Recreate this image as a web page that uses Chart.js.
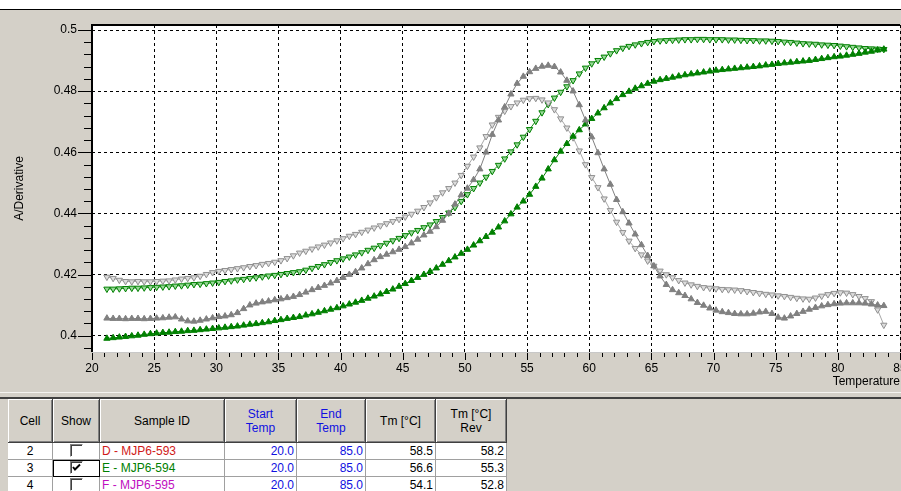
<!DOCTYPE html>
<html>
<head>
<meta charset="utf-8">
<script src="https://cdn.jsdelivr.net/npm/chart.js@4.4.1/dist/chart.umd.min.js"></script>
<style>
html, body { margin: 0; padding: 0; }
body { width: 901px; height: 491px; overflow: hidden; position: relative; background: #fff;
       font-family: "Liberation Sans", Arial, sans-serif; font-size: 12px; }
#topline { position: absolute; left: 0; top: 9px; width: 901px; height: 1px; background: #000; }
#panel { position: absolute; left: 0; top: 10px; width: 901px; height: 382px; background: #d4d0c8; }
#sep1 { position: absolute; left: 0; top: 392px; width: 901px; height: 1px; background: #f4f3f0; }
#lower { position: absolute; left: 0; top: 393px; width: 901px; height: 98px; background: #d4d0c8; }
#sep2 { position: absolute; left: 0; top: 397px; width: 901px; height: 2px; background: #404040; }
#wrap { position: absolute; left: 0; top: 10px; width: 920px; height: 382px; }
#grid { position: absolute; left: 8px; top: 399px; border-collapse: separate; border-spacing: 0;
        table-layout: fixed; font-size: 12px; }
#grid th { height: 43px; padding: 0; background: #d4d0c8; font-weight: normal; line-height: 14px;
           border-right: 1px solid #404040; border-bottom: 1px solid #404040;
           box-shadow: inset 1px 1px #fff, inset -1px -1px #808080; color: #000; }
#grid td { height: 16px; padding: 0 2px; background: #fff; line-height: 16px; white-space: nowrap;
           border-right: 1px solid #a0a0a0; border-bottom: 1px solid #a0a0a0; overflow: hidden; }
#grid .blue { color: #1010e0; }
#grid .num { text-align: right; }
#grid .ctr { text-align: center; }
#grid td.focus { outline: 1px solid #000; outline-offset: -1px; }
.cb { display: inline-block; width: 11px; height: 11px; vertical-align: -2px; background: #fff;
      border: 1px solid; border-color: #808080 #fff #fff #808080; box-shadow: inset 1px 1px #404040; position: relative; }
.cb svg { position: absolute; left: 1px; top: 1px; }
</style>
</head>
<body>
<div id="topline"></div>
<div id="panel"></div>
<div id="sep1"></div>
<div id="lower"></div>
<div id="sep2"></div>
<div id="wrap"><canvas id="myChart" width="920" height="382"></canvas></div>
<table id="grid"></table>
<script>
// sampling grid of the melt run (deg C)
const tempStart = 21.2;
const tempStep = 0.5;

// gray, filled up-triangles
const grayUp = [
  0.4057, 0.4056, 0.4056, 0.4055, 0.4056, 0.4056, 0.4055, 0.4056, 0.4057, 0.4058,
  0.4060, 0.4061, 0.4054, 0.4048, 0.4047, 0.4050, 0.4054, 0.4058, 0.4062, 0.4064,
  0.4068, 0.4075, 0.4088, 0.4100, 0.4106, 0.4110, 0.4113, 0.4117, 0.4120, 0.4124,
  0.4128, 0.4134, 0.4142, 0.4150, 0.4157, 0.4164, 0.4172, 0.4180, 0.4190, 0.4200,
  0.4209, 0.4221, 0.4235, 0.4248, 0.4258, 0.4266, 0.4274, 0.4282, 0.4291, 0.4303,
  0.4315, 0.4329, 0.4341, 0.4356, 0.4377, 0.4400, 0.4430, 0.4460, 0.4482, 0.4510,
  0.4545, 0.4600, 0.4658, 0.4705, 0.4748, 0.4790, 0.4825, 0.4848, 0.4863, 0.4874,
  0.4881, 0.4884, 0.4880, 0.4862, 0.4835, 0.4800, 0.4755, 0.4705, 0.4650, 0.4598,
  0.4545, 0.4495, 0.4445, 0.4405, 0.4368, 0.4332, 0.4297, 0.4262, 0.4228, 0.4195,
  0.4167, 0.4150, 0.4140, 0.4131, 0.4120, 0.4108, 0.4099, 0.4090, 0.4083, 0.4078,
  0.4075, 0.4072, 0.4071, 0.4071, 0.4073, 0.4077, 0.4079, 0.4072, 0.4060, 0.4057,
  0.4064, 0.4072, 0.4079, 0.4086, 0.4092, 0.4097, 0.4101, 0.4104, 0.4106, 0.4107,
  0.4107, 0.4107, 0.4106, 0.4103, 0.4100, 0.4098
];

// light gray, open down-triangles
const grayDown = [
  0.4192, 0.4188, 0.4182, 0.4178, 0.4177, 0.4178, 0.4177, 0.4177, 0.4178, 0.4179,
  0.4180, 0.4183, 0.4186, 0.4188, 0.4190, 0.4195, 0.4201, 0.4207, 0.4211, 0.4214,
  0.4217, 0.4220, 0.4223, 0.4227, 0.4230, 0.4234, 0.4237, 0.4241, 0.4246, 0.4253,
  0.4262, 0.4271, 0.4277, 0.4284, 0.4291, 0.4297, 0.4304, 0.4311, 0.4318, 0.4326,
  0.4332, 0.4339, 0.4346, 0.4353, 0.4360, 0.4367, 0.4374, 0.4381, 0.4389, 0.4398,
  0.4408, 0.4420, 0.4435, 0.4452, 0.4468, 0.4482, 0.4500, 0.4525, 0.4555, 0.4585,
  0.4615, 0.4652, 0.4690, 0.4715, 0.4735, 0.4750, 0.4762, 0.4771, 0.4776, 0.4777,
  0.4772, 0.4762, 0.4740, 0.4710, 0.4680, 0.4648, 0.4605, 0.4560, 0.4518, 0.4485,
  0.4448, 0.4410, 0.4372, 0.4338, 0.4310, 0.4286, 0.4265, 0.4245, 0.4228, 0.4212,
  0.4200, 0.4190, 0.4181, 0.4173, 0.4167, 0.4162, 0.4158, 0.4156, 0.4154, 0.4152,
  0.4151, 0.4150, 0.4148, 0.4145, 0.4142, 0.4139, 0.4136, 0.4134, 0.4131, 0.4129,
  0.4126, 0.4123, 0.4121, 0.4120, 0.4124, 0.4130, 0.4135, 0.4139, 0.4141, 0.4140,
  0.4135, 0.4129, 0.4122, 0.4112, 0.4085, 0.4035
];

// green, open down-triangles
const greenDown = [
  0.4153, 0.4153, 0.4154, 0.4155, 0.4156, 0.4156, 0.4157, 0.4158, 0.4159, 0.4160,
  0.4161, 0.4163, 0.4164, 0.4166, 0.4168, 0.4169, 0.4171, 0.4173, 0.4175, 0.4178,
  0.4180, 0.4183, 0.4185, 0.4188, 0.4190, 0.4193, 0.4196, 0.4198, 0.4201, 0.4204,
  0.4207, 0.4210, 0.4215, 0.4221, 0.4227, 0.4233, 0.4240, 0.4246, 0.4252, 0.4258,
  0.4265, 0.4272, 0.4280, 0.4287, 0.4295, 0.4303, 0.4311, 0.4319, 0.4328, 0.4337,
  0.4345, 0.4354, 0.4363, 0.4374, 0.4387, 0.4402, 0.4420, 0.4440, 0.4462, 0.4482,
  0.4500, 0.4519, 0.4538, 0.4558, 0.4579, 0.4602, 0.4625, 0.4650, 0.4675, 0.4702,
  0.4730, 0.4757, 0.4778, 0.4797, 0.4815, 0.4835, 0.4857, 0.4876, 0.4890, 0.4901,
  0.4912, 0.4923, 0.4933, 0.4941, 0.4947, 0.4952, 0.4956, 0.4960, 0.4963, 0.4965,
  0.4966, 0.4967, 0.4968, 0.4969, 0.4969, 0.4970, 0.4970, 0.4969, 0.4969, 0.4969,
  0.4968, 0.4968, 0.4967, 0.4966, 0.4966, 0.4965, 0.4965, 0.4964, 0.4963, 0.4961,
  0.4960, 0.4958, 0.4956, 0.4955, 0.4954, 0.4952, 0.4951, 0.4950, 0.4948, 0.4946,
  0.4944, 0.4942, 0.4940, 0.4939, 0.4938, 0.4937
];

// green, filled up-triangles
const greenUp = [
  0.3991, 0.3993, 0.3995, 0.3997, 0.3999, 0.4001, 0.4004, 0.4006, 0.4008, 0.4010,
  0.4011, 0.4013, 0.4014, 0.4016, 0.4017, 0.4019, 0.4021, 0.4023, 0.4025, 0.4027,
  0.4029, 0.4031, 0.4034, 0.4037, 0.4039, 0.4042, 0.4045, 0.4049, 0.4052, 0.4056,
  0.4059, 0.4062, 0.4067, 0.4071, 0.4076, 0.4081, 0.4086, 0.4091, 0.4097, 0.4103,
  0.4109, 0.4115, 0.4122, 0.4129, 0.4136, 0.4144, 0.4152, 0.4161, 0.4170, 0.4180,
  0.4190, 0.4200, 0.4210, 0.4221, 0.4233, 0.4245, 0.4257, 0.4269, 0.4282, 0.4296,
  0.4310, 0.4324, 0.4338, 0.4355, 0.4375, 0.4398, 0.4420, 0.4440, 0.4462, 0.4488,
  0.4515, 0.4545, 0.4575, 0.4603, 0.4628, 0.4652, 0.4673, 0.4692, 0.4710, 0.4728,
  0.4745, 0.4761, 0.4775, 0.4788, 0.4799, 0.4809, 0.4817, 0.4825, 0.4832, 0.4837,
  0.4841, 0.4845, 0.4849, 0.4853, 0.4856, 0.4859, 0.4862, 0.4865, 0.4868, 0.4870,
  0.4872, 0.4874, 0.4876, 0.4878, 0.4880, 0.4882, 0.4885, 0.4887, 0.4890, 0.4892,
  0.4894, 0.4896, 0.4898, 0.4900, 0.4903, 0.4906, 0.4909, 0.4912, 0.4914, 0.4917,
  0.4920, 0.4923, 0.4927, 0.4930, 0.4934, 0.4937
];

// axes
const xMin = 20, xMax = 85, xMajor = 5;
const yMin = 0.39467, yMax = 0.50164, yMajor = 0.02, yMinor = 0.004;

// sample table
const cells = ['2', '3', '4'];
const shown = [false, true, false];
const sampleIds = ['D - MJP6-593', 'E - MJP6-594', 'F - MJP6-595'];
const sampleColors = ['#d01818', '#008000', '#c010c0'];
const startTemps = ['20.0', '20.0', '20.0'];
const endTemps = ['85.0', '85.0', '85.0'];
const tms = ['58.5', '56.6', '54.1'];
const tmRevs = ['58.2', '55.3', '52.8'];

const toPoints = vals => vals.map((v, i) => ({ x: +(tempStart + i * tempStep).toFixed(1), y: v }));

// white plot area, black frame, long/short tick marks
const plotFrame = {
  id: 'plotFrame',
  beforeDraw(chart) {
    const { ctx, chartArea: a } = chart;
    ctx.save();
    ctx.fillStyle = '#fff';
    ctx.fillRect(a.left, a.top, a.right - a.left, a.bottom - a.top);
    ctx.restore();
  },
  afterDraw(chart) {
    const { ctx, chartArea: a, scales: { x, y } } = chart;
    ctx.save();
    ctx.fillStyle = '#000';
    for (let k = Math.ceil(yMin / yMinor - 1e-6); k * yMinor <= yMax; k++) {
      const py = Math.round(y.getPixelForValue(k * yMinor));
      const len = k % 5 === 0 ? 14 : 8;
      ctx.fillRect(a.left - len, py, len, 1);
    }
    for (let t = xMin; t <= xMax; t++) {
      const px = Math.round(x.getPixelForValue(t));
      const len = t % xMajor === 0 ? 7 : 4;
      ctx.fillRect(px, a.bottom + 1, 1, len);
    }
    ctx.fillRect(a.left - 1, a.top - 1, a.right - a.left + 1, 2);
    ctx.fillRect(a.left - 1, a.top - 1, 2, a.bottom - a.top + 1);
    ctx.fillStyle = '#c8c8c8';
    ctx.fillRect(a.left, a.bottom, a.right - a.left, 1);
    ctx.restore();
  }
};

const font = { family: '"Liberation Sans", Arial, sans-serif', size: 12 };
const hidden = 'rgba(0,0,0,0)';

const ctx = document.getElementById('myChart').getContext('2d');
const chart = new Chart(ctx, {
  type: 'line',
  data: {
    datasets: [
      {
        label: 'grayUp', data: toPoints(grayUp),
        borderColor: '#808080', borderWidth: 1,
        pointStyle: 'triangle', pointRadius: 3.6, pointBackgroundColor: '#808080', pointBorderColor: '#808080'
      },
      {
        label: 'greenUp', data: toPoints(greenUp),
        borderColor: '#008000', borderWidth: 1,
        pointStyle: 'triangle', pointRadius: 3.6, pointBackgroundColor: '#008000', pointBorderColor: '#008000'
      },
      {
        label: 'grayDown', data: toPoints(grayDown),
        borderColor: '#a8a8a8', borderWidth: 1,
        pointStyle: 'triangle', pointRotation: 180, pointRadius: 3.6,
        pointBackgroundColor: '#dcdcdc', pointBorderColor: '#909090', pointBorderWidth: 1
      },
      {
        label: 'greenDown', data: toPoints(greenDown),
        borderColor: '#1e901e', borderWidth: 1,
        pointStyle: 'triangle', pointRotation: 180, pointRadius: 3.6,
        pointBackgroundColor: '#98d898', pointBorderColor: '#008000', pointBorderWidth: 1
      }
    ]
  },
  options: {
    responsive: false,
    animation: false,
    devicePixelRatio: 1,
    layout: { padding: { top: 15, right: 20, bottom: 0, left: 0 } },
    plugins: { legend: { display: false }, tooltip: { enabled: false } },
    scales: {
      x: {
        type: 'linear', min: xMin, max: xMax,
        afterFit: s => { s.height = 40; },
        ticks: { stepSize: xMajor, padding: 0, color: '#000', font, maxRotation: 0, autoSkip: false },
        grid: { color: '#000', lineWidth: 1, drawTicks: true, tickLength: 9, tickColor: hidden },
        border: { display: false, dash: [3, 3] },
        title: { display: true, text: 'Temperature', align: 'end', color: '#000', font, padding: { top: 0, bottom: 3 } }
      },
      y: {
        type: 'linear', min: yMin, max: yMax,
        afterFit: s => { s.width = 92; },
        ticks: {
          stepSize: yMajor, includeBounds: false, padding: 0, color: '#000', font,
          callback: v => String(parseFloat(v.toFixed(2)))
        },
        grid: { color: '#000', lineWidth: 1, drawTicks: true, tickLength: 15, tickColor: hidden },
        border: { display: false, dash: [3, 3] },
        title: { display: true, text: 'A/Derivative', color: '#000', font, padding: { top: 12, bottom: 0 } }
      }
    }
  },
  plugins: [plotFrame]
});

// sample table below the plot
const table = document.getElementById('grid');
const widths = [45, 47, 125, 72, 69, 70, 71];
let html = '<colgroup>' + widths.map(w => '<col style="width:' + w + 'px">').join('') + '</colgroup>';
html += '<tr><th>Cell</th><th>Show</th><th>Sample ID</th><th class="blue">Start<br>Temp</th>' +
        '<th class="blue">End<br>Temp</th><th>Tm [°C]</th><th>Tm [°C]<br>Rev</th></tr>';
const tick = '<svg width="9" height="9" viewBox="0 0 9 9"><polyline points="1,4 3,6.5 8,1.5" fill="none" stroke="#000" stroke-width="2"/></svg>';
cells.forEach((c, i) => {
  html += '<tr><td class="ctr">' + c + '</td>' +
    '<td class="ctr' + (shown[i] ? ' focus' : '') + '"><span class="cb">' + (shown[i] ? tick : '') + '</span></td>' +
    '<td style="color:' + sampleColors[i] + '">' + sampleIds[i] + '</td>' +
    '<td class="num blue">' + startTemps[i] + '</td>' +
    '<td class="num blue">' + endTemps[i] + '</td>' +
    '<td class="num">' + tms[i] + '</td>' +
    '<td class="num">' + tmRevs[i] + '</td></tr>';
});
table.innerHTML = html;
</script>
</body>
</html>
